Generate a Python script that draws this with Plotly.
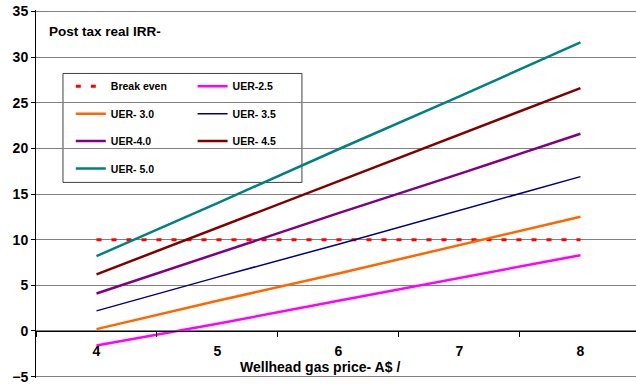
import plotly.graph_objects as go

# ---- data ----
gas_price = ["4", "5", "6", "7", "8"]
break_even = [10, 10, 10, 10, 10]
uer_2_5 = [-1.6, 0.8, 3.3, 5.8, 8.3]
uer_3_0 = [0.2, 3.3, 6.3, 9.4, 12.5]
uer_3_5 = [2.2, 5.9, 9.5, 13.2, 16.9]
uer_4_0 = [4.1, 8.5, 12.9, 17.2, 21.6]
uer_4_5 = [6.2, 11.3, 16.4, 21.5, 26.6]
uer_5_0 = [8.2, 14.0, 19.9, 25.7, 31.6]
y_ticks = [-5, 0, 5, 10, 15, 20, 25, 30, 35]

FONT = "Liberation Sans, Arial, sans-serif"

fig = go.Figure()

series = [
    # name, values, color, width, dash, legend
    ("Break even", break_even, "#FF0000", 3, "5px,10px", "legend"),
    ("UER- 3.0", uer_3_0, "#FF6600", 2.5, "solid", "legend"),
    ("UER-4.0", uer_4_0, "#800080", 2.5, "solid", "legend"),
    ("UER- 5.0", uer_5_0, "#008080", 2.5, "solid", "legend"),
    ("UER-2.5", uer_2_5, "#FF00FF", 2.5, "solid", "legend2"),
    ("UER- 3.5", uer_3_5, "#000080", 1.5, "solid", "legend2"),
    ("UER- 4.5", uer_4_5, "#800000", 2.5, "solid", "legend2"),
]

for i, (name, vals, color, width, dash, leg) in enumerate(series):
    fig.add_trace(go.Scatter(
        x=gas_price, y=vals, name=name, mode="lines",
        line=dict(color=color, width=width, dash=dash),
        legend=leg, legendgroup=f"g{i}",
    ))

# legend box (white panel above gridlines, below traces)
fig.add_shape(type="rect", xref="x", yref="y", layer="below",
              x0=-0.277, x1=1.698, y0=16.27, y1=28.2,
              line=dict(color="#404040", width=1), fillcolor="white")

legend_font = dict(family=FONT, size=10.5, color="black", weight="bold")

# y range padded slightly so the end gridlines (-5, 35) are kept
Y_LO, Y_HI = -5.15, 35.15

fig.update_layout(
    width=636, height=385,
    margin=dict(l=36, r=0, t=9.6, b=4.6),
    paper_bgcolor="white", plot_bgcolor="white",
    font=dict(family=FONT, color="black"),
    showlegend=True,
    legend=dict(x=0.058, y=0.832, xanchor="left", yanchor="top",
                bgcolor="rgba(0,0,0,0)", borderwidth=0, font=legend_font,
                tracegroupgap=8.4, itemwidth=30, orientation="v"),
    legend2=dict(x=0.261, y=0.832, xanchor="left", yanchor="top",
                 bgcolor="rgba(0,0,0,0)", borderwidth=0, font=legend_font,
                 tracegroupgap=8.4, itemwidth=30, orientation="v"),
    xaxis=dict(
        type="category", categoryorder="array", categoryarray=gas_price,
        range=[-0.5, 4.459], anchor="free", position=(0 - Y_LO) / (Y_HI - Y_LO),
        showline=True, linecolor="black", linewidth=1,
        ticks="outside", tickson="boundaries", ticklen=5, tickcolor="black",
        ticklabelstandoff=7,
        showgrid=False, zeroline=False,
        tickfont=dict(family=FONT, size=14, color="black", weight="bold"),
    ),
    yaxis=dict(
        range=[Y_LO, Y_HI], tickvals=y_ticks, ticklabeloverflow="allow",
        showline=True, linecolor="black", linewidth=1,
        ticks="outside", ticklen=4, tickcolor="black",
        showgrid=True, gridcolor="#808080", gridwidth=1, zeroline=False,
        tickfont=dict(family=FONT, size=14, color="black", weight="bold"),
    ),
    annotations=[
        dict(text="Post tax real IRR-", xref="paper", yref="paper",
             x=0.019, y=0.9416, xanchor="left", yanchor="middle", showarrow=False,
             font=dict(family=FONT, size=13.5, color="black", weight="bold")),
        dict(text="Wellhead gas price- A$ /", xref="paper", yref="paper",
             x=0.474, y=0.030, xanchor="center", yanchor="middle", showarrow=False,
             font=dict(family=FONT, size=14, color="black", weight="bold")),
    ],
)

fig.write_html("out.html", config={"displayModeBar": False},
               post_script="document.body.style.margin='0';")
